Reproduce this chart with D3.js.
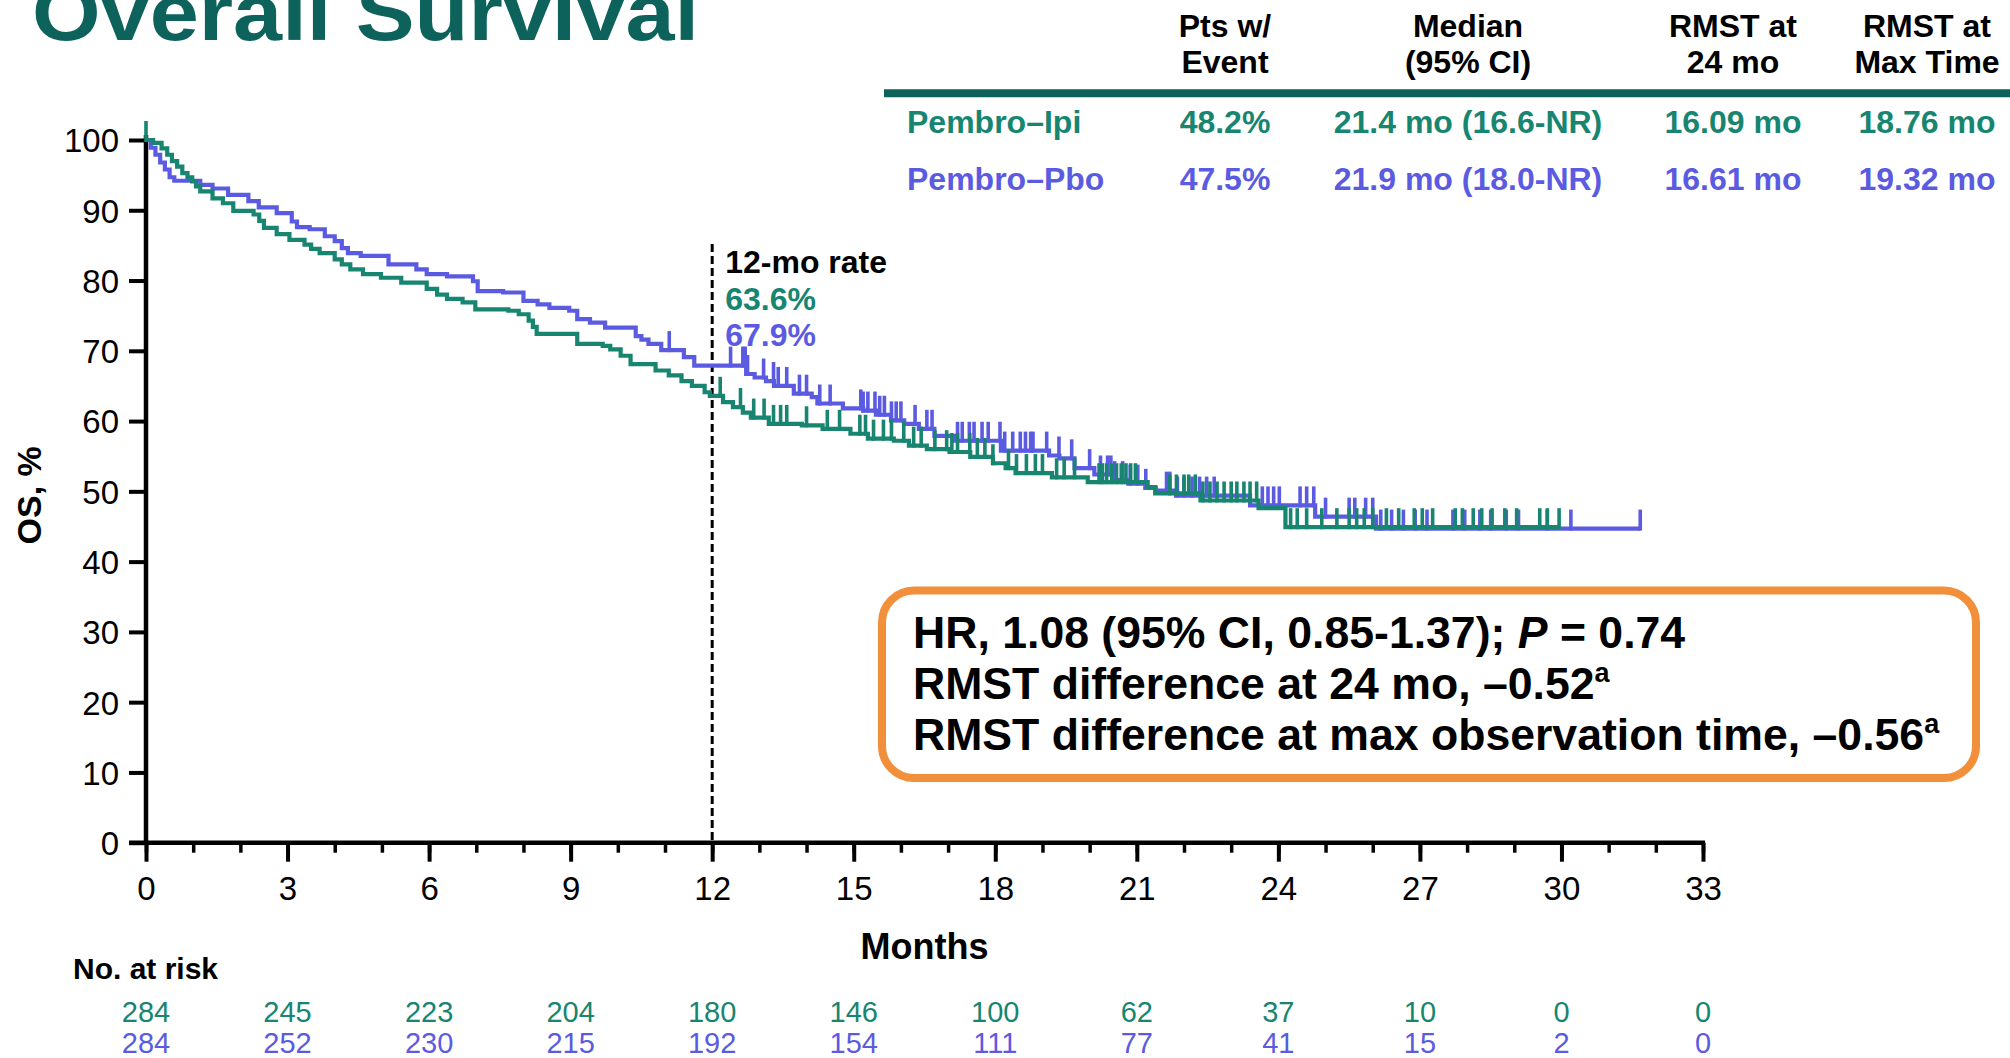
<!DOCTYPE html>
<html>
<head>
<meta charset="utf-8">
<script src="https://cdn.jsdelivr.net/npm/d3@7"></script>
<style>
  html, body { margin: 0; padding: 0; background: #fff; }
  svg { display: block; font-family: "Liberation Sans", Arial, Helvetica, sans-serif; }
</style>
</head>
<body>
<svg id="chart" width="2010" height="1058"></svg>
<script>
// ---- data ----
const monthTicks = [0, 3, 6, 9, 12, 15, 18, 21, 24, 27, 30, 33];
const yTicks = [0, 10, 20, 30, 40, 50, 60, 70, 80, 90, 100];
const armNames = ["Pembro\u2013Ipi", "Pembro\u2013Pbo"];
const riskIpi = [284, 245, 223, 204, 180, 146, 100, 62, 37, 10, 0, 0];
const riskPbo = [284, 252, 230, 215, 192, 154, 111, 77, 41, 15, 2, 0];
const rate12 = ["63.6%", "67.9%"];

const headerTop = ["Pts w/", "Median", "RMST at", "RMST at"];
const headerBottom = ["Event", "(95% CI)", "24 mo", "Max Time"];
const ipiCells = ["48.2%", "21.4 mo (16.6-NR)", "16.09 mo", "18.76 mo"];
const pboCells = ["47.5%", "21.9 mo (18.0-NR)", "16.61 mo", "19.32 mo"];

// Kaplan-Meier steps: [month, OS % after the drop]
const ipiSteps = [
  [0, 100], [0.15, 99.6], [0.33, 98.8], [0.45, 97.9], [0.55, 97.0], [0.66, 96.2], [0.77, 95.3],
  [0.88, 94.7], [0.98, 94.1], [1.06, 93.4], [1.15, 92.7], [1.41, 91.7], [1.63, 91.0], [1.85, 89.9],
  [2.28, 89.4], [2.4, 88.5], [2.5, 87.5], [2.77, 86.6], [3.04, 85.8], [3.36, 85.1], [3.5, 84.5],
  [3.68, 83.9], [4.0, 83.0], [4.15, 82.3], [4.33, 81.6], [4.6, 80.9], [4.98, 80.4], [5.41, 79.7],
  [5.95, 78.8], [6.17, 78.0], [6.38, 77.4], [6.71, 76.9], [6.98, 75.9], [7.68, 75.7], [7.9, 75.2],
  [8.11, 74.3], [8.2, 73.4], [8.28, 72.4], [9.14, 71.0], [9.68, 70.7], [9.84, 70.2], [10.06, 69.3],
  [10.27, 68.1], [10.8, 67.2], [11.08, 66.5], [11.35, 65.7], [11.57, 65.0], [11.84, 64.1], [11.95, 63.6],
  [12.23, 62.7], [12.44, 62.0], [12.65, 61.2], [12.82, 60.5], [13.2, 59.6], [13.9, 59.4], [14.34, 58.9],
  [14.93, 58.2], [15.3, 57.5], [15.85, 57.2], [16.17, 56.5], [16.55, 56.0], [17.03, 55.6], [17.47, 54.9],
  [17.95, 54.0], [18.22, 53.3], [18.43, 52.6], [19.2, 52.0], [19.96, 51.3], [21.23, 50.6], [21.39, 49.7],
  [22.35, 48.7], [23.58, 47.6], [24.15, 44.9]
];
const ipiEnd = 29.95;

const pboSteps = [
  [0, 100], [0.1, 98.9], [0.2, 97.9], [0.3, 96.8], [0.4, 95.8], [0.5, 94.7], [0.6, 94.2],
  [1.15, 93.6], [1.41, 93.1], [1.74, 92.2], [2.17, 91.3], [2.39, 90.4], [2.77, 89.6], [3.09, 88.4],
  [3.2, 87.6], [3.47, 87.3], [3.79, 86.3], [4.0, 85.6], [4.15, 84.6], [4.28, 83.9], [4.55, 83.5],
  [5.14, 82.3], [5.73, 81.6], [5.95, 80.9], [6.38, 80.6], [6.93, 79.9], [7.03, 78.5], [7.57, 78.3],
  [8.0, 77.1], [8.3, 76.6], [8.55, 76.1], [8.97, 75.7], [9.14, 74.5], [9.41, 74.0], [9.73, 73.3],
  [10.38, 72.1], [10.5, 71.6], [10.65, 71.0], [10.92, 70.1], [11.4, 69.1], [11.62, 67.9],
  [12.72, 66.7], [12.9, 66.2], [13.14, 65.7], [13.31, 65.0], [13.73, 63.9], [14.11, 63.4], [14.23, 62.5],
  [14.77, 61.8], [15.2, 61.5], [15.47, 60.9], [15.79, 60.1], [16.07, 59.6], [16.38, 58.9], [16.71, 57.9],
  [17.14, 57.2], [18.12, 55.8], [19.14, 55.1], [19.36, 54.7], [19.68, 53.3], [20.1, 52.4], [20.5, 51.6],
  [20.82, 51.1], [21.18, 50.5], [21.4, 50.1], [21.83, 49.4], [23.4, 48.0], [24.78, 46.4], [26.07, 44.7]
];
const pboEnd = 31.67;

// censored observations (months)
const ipiCensor = [
  0, 12.17, 12.6, 12.88, 13.1, 13.3, 13.45, 13.58, 14.0, 14.44, 14.7, 15.13, 15.25, 15.42, 15.63, 15.8,
  16.06, 16.27, 16.43, 16.72, 16.97, 17.08, 17.2, 17.46, 17.62, 17.78, 17.95, 18.28, 18.45, 18.66, 18.85,
  19.0, 19.3, 19.46, 19.68, 20.2, 20.27, 20.36, 20.47, 20.57, 20.67, 20.77, 20.87, 20.97, 21.7, 21.84,
  22.0, 22.1, 22.24, 22.4, 22.55, 22.7, 22.85, 23.0, 23.12, 23.27, 23.4, 23.54, 24.26, 24.4, 24.6, 24.92,
  25.24, 25.5, 25.66, 25.82, 26.0, 26.29, 26.55, 26.88, 27.05, 27.27, 27.75, 27.9, 28.13, 28.31, 28.53,
  28.8, 29.05, 29.54, 29.7, 29.95
];
const pboCensor = [
  11.09, 12.39, 12.65, 12.7, 12.75, 13.09, 13.3, 13.4, 13.58, 13.85, 14.0, 14.28, 14.5, 15.15, 15.2,
  15.3, 15.45, 15.55, 15.65, 15.8, 15.9, 16.0, 16.3, 16.55, 16.66, 17.2, 17.3, 17.45, 17.55, 17.72,
  17.85, 18.1, 18.2, 18.37, 18.53, 18.64, 18.75, 18.8, 19.09, 19.35, 19.62, 20.0, 20.23, 20.38, 20.45,
  20.53, 20.7, 20.86, 21.02, 21.19, 21.63, 21.7, 21.86, 22.0, 22.17, 22.33, 22.48, 22.64, 23.66, 23.78,
  23.9, 24.02, 24.46, 24.6, 24.75, 25.0, 25.5, 25.62, 25.85, 26.0, 26.17, 26.4, 26.65, 26.9, 27.15,
  27.7, 27.95, 28.27, 28.5, 28.83, 29.09, 29.7, 30.2, 31.67
];

// ---- styles ----
const GREEN = "#178570";
const BLUE = "#5b5be2";
const TEAL = "#0d635c";
const ORANGE = "#f28f3b";
const FONT = '"Liberation Sans", Arial, Helvetica, sans-serif';

const svg = d3.select("#chart");

const x = d3.scaleLinear().domain([0, 33]).range([146, 1703]);
const y = d3.scaleLinear().domain([0, 100]).range([842.7, 140]);

// ---- title ----
svg.append("text")
  .attr("x", 32).attr("y", 40)
  .attr("font-size", 80).attr("font-weight", "bold")
  .attr("fill", TEAL)
  .attr("textLength", 667).attr("lengthAdjust", "spacingAndGlyphs")
  .text("Overall Survival");

// ---- summary table ----
const colX = [1225, 1468, 1733, 1927];
svg.append("line")
  .attr("x1", 884).attr("x2", 2010).attr("y1", 93.3).attr("y2", 93.3)
  .attr("stroke", TEAL).attr("stroke-width", 8);

const head = svg.append("g").attr("font-size", 32).attr("font-weight", "bold")
  .attr("text-anchor", "middle").attr("fill", "#000");
head.selectAll("text.top").data(headerTop).join("text")
  .attr("class", "top").attr("x", (d, i) => colX[i]).attr("y", 37).text(d => d);
head.selectAll("text.bot").data(headerBottom).join("text")
  .attr("class", "bot").attr("x", (d, i) => colX[i]).attr("y", 73).text(d => d);

[[ipiCells, GREEN, 133], [pboCells, BLUE, 190]].forEach(([cells, col, yy], r) => {
  const g = svg.append("g").attr("font-size", 32).attr("font-weight", "bold").attr("fill", col);
  g.append("text").attr("x", 907).attr("y", yy).text(armNames[r]);
  g.selectAll("text.cell").data(cells).join("text")
    .attr("class", "cell").attr("text-anchor", "middle")
    .attr("x", (d, i) => colX[i]).attr("y", yy).text(d => d);
});

// ---- axes ----
const yAxis = svg.append("g").attr("transform", `translate(${x(0)},0)`)
  .call(d3.axisLeft(y).tickValues(yTicks).tickSize(17).tickPadding(10).tickSizeOuter(0));
yAxis.select(".domain").remove();
yAxis.selectAll(".tick line").attr("stroke", "#000").attr("stroke-width", 4);
yAxis.selectAll(".tick text").attr("font-size", 33).attr("font-family", FONT)
  .attr("fill", "#000").attr("dy", "0.36em");
svg.append("line")
  .attr("x1", x(0)).attr("x2", x(0)).attr("y1", y(0) + 2).attr("y2", y(100.7))
  .attr("stroke", "#000").attr("stroke-width", 4.5);

const xMinor = svg.append("g").attr("transform", `translate(0,${y(0)})`)
  .call(d3.axisBottom(x).tickValues(d3.range(0, 34)).tickSize(10).tickFormat(""));
xMinor.select(".domain").remove();
xMinor.selectAll(".tick line").attr("stroke", "#000").attr("stroke-width", 3.5);

const xAxis = svg.append("g").attr("transform", `translate(0,${y(0)})`)
  .call(d3.axisBottom(x).tickValues(monthTicks).tickSize(19).tickPadding(15).tickSizeOuter(0));
xAxis.select(".domain").remove();
xAxis.selectAll(".tick line").attr("stroke", "#000").attr("stroke-width", 4);
xAxis.selectAll(".tick text").attr("font-size", 33).attr("font-family", FONT).attr("fill", "#000");
svg.append("line")
  .attr("x1", x(0) - 17).attr("x2", x(33) + 2).attr("y1", y(0)).attr("y2", y(0))
  .attr("stroke", "#000").attr("stroke-width", 4.5);

// axis titles
svg.append("text")
  .attr("transform", `translate(41,${y(50) + 4}) rotate(-90)`)
  .attr("text-anchor", "middle").attr("font-size", 34).attr("font-weight", "bold")
  .text("OS, %");
svg.append("text")
  .attr("x", (x(0) + x(33)) / 2).attr("y", 959)
  .attr("text-anchor", "middle").attr("font-size", 36).attr("font-weight", "bold")
  .text("Months");

// ---- 12-month reference ----
svg.append("line")
  .attr("x1", x(12)).attr("x2", x(12)).attr("y1", 244).attr("y2", y(0))
  .attr("stroke", "#000").attr("stroke-width", 3).attr("stroke-dasharray", "8,4");
const rateG = svg.append("g").attr("font-size", 32).attr("font-weight", "bold");
rateG.append("text").attr("x", x(12) + 13).attr("y", 273).attr("fill", "#000").text("12-mo rate");
rateG.append("text").attr("x", x(12) + 13).attr("y", 310).attr("fill", GREEN).text(rate12[0]);
rateG.append("text").attr("x", x(12) + 13).attr("y", 346).attr("fill", BLUE).text(rate12[1]);

// ---- survival curves ----
function survAt(steps, t) {
  let s = steps[0][1];
  for (const [tt, ss] of steps) { if (tt <= t) s = ss; else break; }
  return s;
}
const line = d3.line().x(d => x(d[0])).y(d => y(d[1])).curve(d3.curveStepAfter);

function drawArm(steps, end, censor, color) {
  const pts = steps.concat([[end, steps[steps.length - 1][1]]]);
  const g = svg.append("g");
  g.append("path").attr("d", line(pts)).attr("fill", "none")
    .attr("stroke", color).attr("stroke-width", 4.2).attr("stroke-linejoin", "miter");
  g.selectAll("line").data(censor).join("line")
    .attr("x1", d => x(d)).attr("x2", d => x(d))
    .attr("y1", d => y(survAt(steps, d)) + 2)
    .attr("y2", d => y(survAt(steps, d)) - 19)
    .attr("stroke", color).attr("stroke-width", 3.6);
}
drawArm(pboSteps, pboEnd, pboCensor, BLUE);
drawArm(ipiSteps, ipiEnd, ipiCensor, GREEN);

// ---- hazard ratio box ----
svg.append("rect")
  .attr("x", 882).attr("y", 590.5).attr("width", 1094).attr("height", 187.5)
  .attr("rx", 32).attr("ry", 32)
  .attr("fill", "#fff").attr("stroke", ORANGE).attr("stroke-width", 8);
const box = svg.append("g").attr("font-size", 44.6).attr("font-weight", "bold").attr("fill", "#000");
const l1 = box.append("text").attr("x", 913).attr("y", 648);
l1.append("tspan").text("HR, 1.08 (95% CI, 0.85-1.37); ");
l1.append("tspan").attr("font-style", "italic").text("P");
l1.append("tspan").text(" = 0.74");
const l2 = box.append("text").attr("x", 913).attr("y", 699);
l2.append("tspan").text("RMST difference at 24 mo, \u20130.52");
l2.append("tspan").attr("font-size", 27).attr("dy", -17).text("a");
const l3 = box.append("text").attr("x", 913).attr("y", 750);
l3.append("tspan").text("RMST difference at max observation time, \u20130.56");
l3.append("tspan").attr("font-size", 27).attr("dy", -17).text("a");

// ---- number at risk ----
svg.append("text").attr("x", 73).attr("y", 979)
  .attr("font-size", 30).attr("font-weight", "bold").text("No. at risk");
[[riskIpi, GREEN, 1022], [riskPbo, BLUE, 1053]].forEach(([vals, col, yy]) => {
  svg.append("g").attr("font-size", 29).attr("fill", col).attr("text-anchor", "middle")
    .selectAll("text").data(vals).join("text")
    .attr("x", (d, i) => x(monthTicks[i])).attr("y", yy).text(d => d);
});
</script>
</body>
</html>
